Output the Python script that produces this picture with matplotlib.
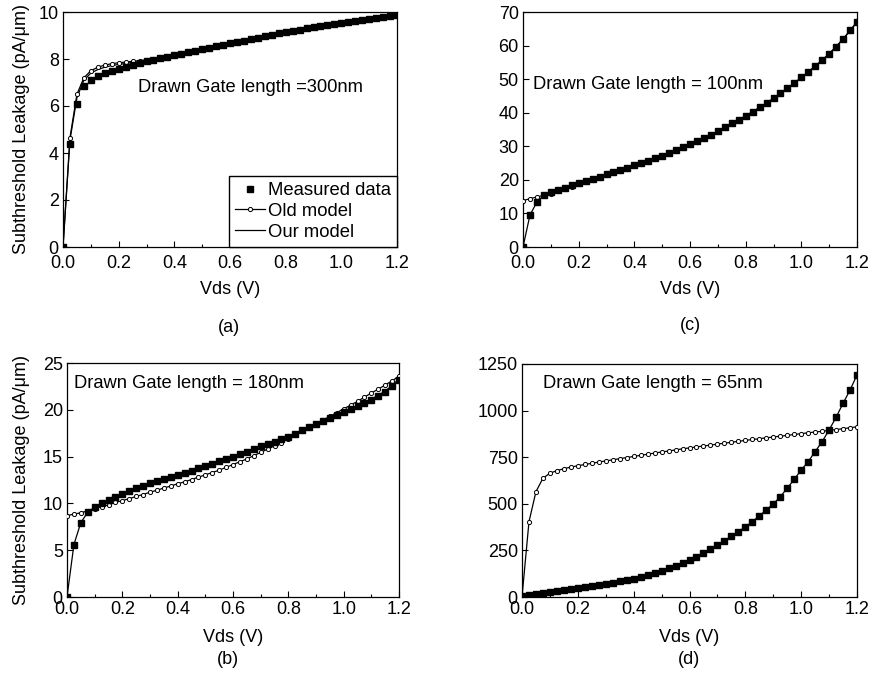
import numpy as np
import matplotlib
matplotlib.use("Agg")
import matplotlib.pyplot as plt
from matplotlib.ticker import MultipleLocator

plt.rcParams['font.family'] = ['Liberation Sans', 'DejaVu Sans']

# Vds sample grid (V), 0.025 V steps
vds = np.linspace(0.0, 1.2, 49)

# (a) Drawn gate length 300nm
meas_a = [0.0, 4.4, 6.1, 6.85, 7.12, 7.28, 7.4, 7.5, 7.58, 7.66, 7.74, 7.82, 7.9,
          7.97, 8.04, 8.1, 8.17, 8.23, 8.3, 8.36, 8.42, 8.48, 8.54, 8.6, 8.66,
          8.72, 8.78, 8.85, 8.91, 8.97, 9.03, 9.09, 9.15, 9.2, 9.25, 9.3, 9.35,
          9.4, 9.45, 9.5, 9.54, 9.58, 9.62, 9.66, 9.7, 9.74, 9.78, 9.82, 9.86]
old_a = [0.0, 4.65, 6.5, 7.2, 7.5, 7.65, 7.74, 7.8, 7.84, 7.87, 7.9, 7.93, 7.96,
         8.0, 8.05, 8.11, 8.18, 8.24, 8.31, 8.37, 8.43, 8.49, 8.55, 8.61, 8.67,
         8.73, 8.79, 8.86, 8.92, 8.98, 9.04, 9.1, 9.16, 9.21, 9.26, 9.31, 9.36,
         9.41, 9.46, 9.51, 9.55, 9.59, 9.63, 9.67, 9.71, 9.75, 9.79, 9.83, 9.87]
our_a = [0.0, 4.55, 6.35, 7.1, 7.4, 7.55, 7.65, 7.72, 7.77, 7.81, 7.85, 7.88, 7.92,
         7.97, 8.04, 8.1, 8.17, 8.23, 8.3, 8.36, 8.42, 8.48, 8.54, 8.6, 8.66,
         8.72, 8.78, 8.85, 8.91, 8.97, 9.03, 9.09, 9.15, 9.2, 9.25, 9.3, 9.35,
         9.4, 9.45, 9.5, 9.54, 9.58, 9.62, 9.66, 9.7, 9.74, 9.78, 9.82, 9.86]

# (c) Drawn gate length 100nm
meas_c = [0.0, 9.5, 13.4, 15.4, 16.3, 17.0, 17.7, 18.4, 19.1, 19.8, 20.4, 21.0,
          21.7, 22.3, 23.0, 23.6, 24.3, 25.0, 25.7, 26.4, 27.2, 28.0, 28.8, 29.7,
          30.6, 31.5, 32.5, 33.5, 34.6, 35.7, 36.8, 37.9, 39.1, 40.3, 41.6, 42.9,
          44.3, 45.8, 47.3, 48.9, 50.5, 52.2, 53.9, 55.7, 57.6, 59.7, 62.0, 64.5, 67.1]
old_c = [13.8, 14.4, 14.9, 15.4, 15.9, 16.6, 17.3, 18.0, 18.7, 19.4, 20.0, 20.7,
         21.3, 22.0, 22.6, 23.3, 24.0, 24.7, 25.4, 26.2, 27.0, 27.8, 28.6, 29.5,
         30.4, 31.3, 32.3, 33.3, 34.4, 35.5, 36.6, 37.8, 39.0, 40.2, 41.5, 42.8,
         44.2, 45.7, 47.2, 48.8, 50.4, 52.1, 53.8, 55.6, 57.5, 59.6, 61.9, 64.4, 67.0]
our_c = [0.0, 9.5, 13.4, 15.4, 16.1, 16.8, 17.5, 18.2, 18.9, 19.6, 20.2, 20.8,
         21.5, 22.1, 22.8, 23.4, 24.1, 24.8, 25.5, 26.3, 27.1, 27.9, 28.7, 29.6,
         30.5, 31.4, 32.4, 33.4, 34.5, 35.6, 36.7, 37.9, 39.1, 40.3, 41.6, 42.9,
         44.3, 45.8, 47.3, 48.9, 50.5, 52.2, 53.9, 55.7, 57.6, 59.7, 62.0, 64.5, 67.1]

# (b) Drawn gate length 180nm
meas_b = [0.0, 5.6, 7.95, 9.05, 9.65, 10.05, 10.4, 10.7, 11.0, 11.3, 11.6, 11.9,
          12.15, 12.4, 12.6, 12.8, 13.0, 13.25, 13.5, 13.75, 14.0, 14.25, 14.5,
          14.75, 15.0, 15.25, 15.5, 15.8, 16.1, 16.35, 16.6, 16.85, 17.1, 17.45,
          17.8, 18.15, 18.5, 18.8, 19.15, 19.45, 19.8, 20.1, 20.4, 20.75, 21.1,
          21.5, 21.95, 22.5, 23.2]
old_b = [8.7, 8.85, 9.0, 9.2, 9.45, 9.65, 9.85, 10.1, 10.3, 10.5, 10.75, 10.95,
         11.2, 11.4, 11.65, 11.85, 12.1, 12.3, 12.55, 12.8, 13.05, 13.3, 13.55,
         13.85, 14.15, 14.45, 14.75, 15.1, 15.45, 15.8, 16.15, 16.5, 16.9, 17.3,
         17.7, 18.1, 18.5, 18.9, 19.3, 19.7, 20.1, 20.5, 20.9, 21.35, 21.8, 22.2,
         22.65, 23.1, 23.6]
our_b = [0.0, 5.6, 7.95, 9.05, 9.6, 10.0, 10.35, 10.65, 10.95, 11.25, 11.55, 11.85,
         12.1, 12.35, 12.55, 12.75, 12.95, 13.2, 13.45, 13.7, 13.95, 14.2, 14.45,
         14.7, 14.95, 15.2, 15.45, 15.75, 16.05, 16.35, 16.6, 16.85, 17.1, 17.45,
         17.8, 18.15, 18.5, 18.85, 19.2, 19.5, 19.85, 20.15, 20.45, 20.8, 21.15,
         21.55, 22.0, 22.6, 23.3]

# (d) Drawn gate length 65nm
meas_d = [5, 12, 18, 23, 28, 32, 37, 42, 47, 52, 57, 63, 70, 77, 84, 91, 99, 108,
          118, 129, 141, 154, 168, 184, 200, 216, 234, 256, 279, 302, 327, 350,
          377, 404, 435, 467, 499, 538, 583, 631, 681, 726, 780, 833, 896, 964,
          1039, 1110, 1191]
old_d = [0, 404, 565, 637, 664, 678, 688, 697, 704, 711, 717, 724, 730, 736, 742,
         748, 754, 760, 766, 772, 778, 783, 789, 795, 800, 805, 810, 815, 820, 825,
         830, 835, 840, 845, 849, 854, 858, 863, 867, 872, 876, 881, 885, 889, 894,
         898, 903, 908, 913]
our_d = [0, 12, 18, 23, 28, 32, 37, 42, 47, 52, 57, 63, 70, 77, 84, 91, 99, 108,
         118, 129, 141, 154, 168, 184, 200, 216, 234, 256, 279, 302, 327, 350,
         377, 404, 435, 467, 499, 538, 583, 631, 681, 726, 780, 833, 896, 964,
         1039, 1110, 1191]

W, H = 871, 676
FS = 13

panels = [
    # axes box in pixels (left, top, right, bottom), data, ymax, ystep, note, note pos, tag
    ((63, 12, 397, 247), meas_a, old_a, our_a, 10, 2,
     "Drawn Gate length =300nm", (0.27, 6.77), "(a)", True, (229, 327)),
    ((523, 12, 857, 247), meas_c, old_c, our_c, 70, 10,
     "Drawn Gate length = 100nm", (0.036, 48.3), "(c)", False, (690, 325)),
    ((67, 363, 399, 597), meas_b, old_b, our_b, 25, 5,
     "Drawn Gate length = 180nm", (0.025, 22.8), "(b)", True, (228, 660)),
    ((522, 364, 857, 597), meas_d, old_d, our_d, 1250, 250,
     "Drawn Gate length = 65nm", (0.074, 1143), "(d)", False, (689, 660)),
]

fig = plt.figure(figsize=(W / 100, H / 100), dpi=100)

for box, meas, old, our, ymax, ystep, note, nxy, tag, ylab, tag_xy in panels:
    l, t, r, b = box
    ax = fig.add_axes([l / W, 1 - b / H, (r - l) / W, (b - t) / H])
    top_row = t < 100

    ax.plot(vds, our, color='black', lw=0.9, label='Our model', zorder=2)
    ax.plot(vds, old, color='black', lw=0.9, marker='o', ms=3,
            mfc='white', mec='black', mew=0.7, label='Old model', zorder=3)
    ax.plot(vds, meas, ls='none', marker='s', ms=4.8, color='black',
            label='Measured data', zorder=4)

    ax.set_xlim(0, 1.2)
    ax.set_ylim(0, ymax)
    ax.xaxis.set_major_locator(MultipleLocator(0.2))
    ax.xaxis.set_minor_locator(MultipleLocator(0.1))
    ax.yaxis.set_major_locator(MultipleLocator(ystep))
    ax.set_xticklabels([f"{v:.1f}" for v in ax.get_xticks()])
    ax.tick_params(axis='both', which='major', direction='in', length=4,
                   width=0.8, labelsize=FS)
    ax.tick_params(axis='x', which='major', pad=5.5 if top_row else 3)
    ax.tick_params(axis='y', which='major', pad=3)
    ax.tick_params(axis='x', which='minor', direction='in', length=2.5, width=0.8)
    for sp in ax.spines.values():
        sp.set_linewidth(0.9)

    # x label centred at the reference pixel height
    ax.set_xlabel("Vds (V)", fontsize=FS, va='center')
    xl_y = 289 if top_row else 637
    ax.xaxis.set_label_coords(0.5, -(xl_y - b) / (b - t))
    if ylab:
        ax.set_ylabel("Subthreshold Leakage (pA/\u03bcm)", fontsize=FS, va='center')
        ax.yaxis.set_label_coords(-(l - 21) / (r - l), 0.5)
    ax.text(nxy[0], nxy[1], note, fontsize=13.2, ha='left', va='center')
    fig.text(tag_xy[0] / W, 1 - tag_xy[1] / H, tag, fontsize=FS,
             ha='center', va='center')

    if tag == "(a)":
        h, lb = ax.get_legend_handles_labels()
        ax.legend([h[2], h[1], h[0]], [lb[2], lb[1], lb[0]], loc='lower right',
                  fontsize=13.3, frameon=True, fancybox=False, edgecolor='black',
                  borderaxespad=0, handlelength=1.6, handletextpad=0.15,
                  borderpad=0.35, labelspacing=0.2, framealpha=1)

fig.savefig("out.png", dpi=100)
